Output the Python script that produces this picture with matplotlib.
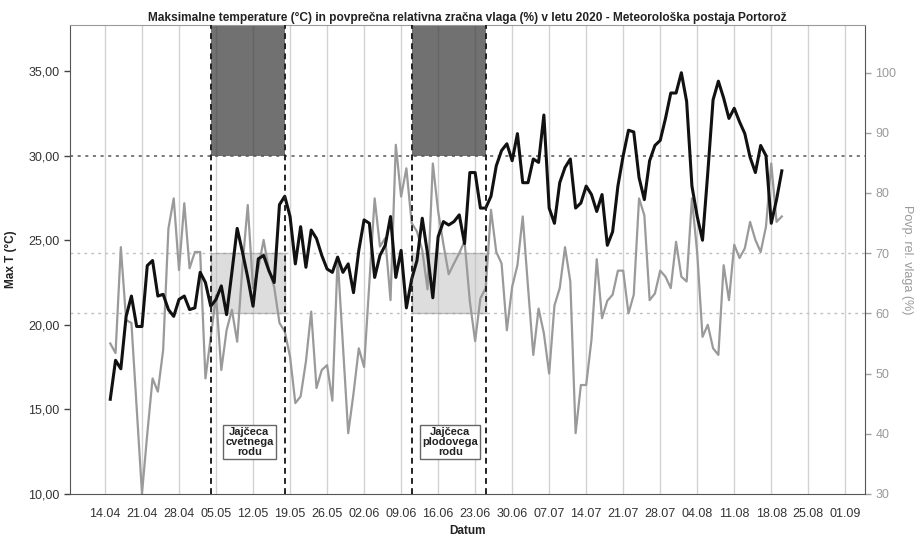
import numpy as np
import pandas as pd
import matplotlib
matplotlib.use("Agg")
import matplotlib.pyplot as plt
import matplotlib.dates as mdates
from matplotlib.patches import Rectangle

plt.rcParams['font.family'] = ['Liberation Sans', 'DejaVu Sans']

# dnevni podatki, Portorož 15.04.2020 - 20.08.2020
zacetek = '2020-04-15'
max_t = [15.6, 17.9, 17.4, 20.5, 21.7, 19.9, 19.9, 23.5, 23.8, 21.7,
         21.8, 20.9, 20.5, 21.5, 21.7, 20.9, 21.0, 23.1, 22.5, 21.1,
         21.5, 22.3, 20.6, 23.1, 25.7, 24.3, 22.8, 21.1, 23.9, 24.1,
         23.2, 22.5, 27.1, 27.6, 26.4, 23.6, 25.8, 23.4, 25.6, 25.1,
         24.1, 23.3, 23.1, 24.0, 23.1, 23.6, 21.9, 24.4, 26.2, 26.0,
         22.8, 24.1, 24.7, 26.4, 22.8, 24.4, 21.0, 22.7, 23.8, 26.3,
         24.2, 21.6, 25.2, 26.1, 25.9, 26.1, 26.5, 24.8, 29.0, 29.0,
         26.9, 26.9, 27.6, 29.4, 30.3, 30.7, 29.7, 31.3, 28.4, 28.4,
         29.8, 29.6, 32.4, 26.9, 26.0, 28.4, 29.3, 29.8, 26.9, 27.2,
         28.2, 27.7, 26.7, 27.7, 24.7, 25.5, 28.2, 30.0, 31.5, 31.4,
         28.7, 27.4, 29.7, 30.6, 30.9, 32.2, 33.7, 33.7, 34.9, 33.2,
         28.2, 26.4, 25.0, 29.0, 33.3, 34.4, 33.4, 32.2, 32.8, 32.0,
         31.3, 29.9, 29.0, 30.6, 30.0, 26.0, 27.4, 29.1]
vlaga = [55.0, 53.4, 71.0, 58.9, 58.4, 44.2, 30.1, 40.0, 49.2, 47.0,
         53.9, 74.1, 79.1, 67.2, 78.3, 67.5, 70.2, 70.2, 49.2, 56.0,
         63.0, 50.6, 57.2, 60.6, 55.3, 67.8, 78.0, 64.2, 67.5, 72.2,
         67.2, 64.4, 58.4, 57.0, 52.8, 45.1, 46.2, 52.0, 60.3, 47.6,
         50.6, 51.4, 45.5, 69.3, 54.8, 40.1, 46.7, 54.2, 51.1, 65.2,
         79.1, 71.1, 72.5, 62.2, 88.0, 79.4, 84.1, 75.0, 73.6, 70.5,
         64.0, 84.9, 77.0, 71.5, 66.5, 68.3, 70.0, 72.0, 62.0, 55.4,
         62.5, 64.2, 77.2, 70.2, 68.3, 57.2, 64.4, 68.0, 76.1, 64.4,
         53.1, 60.8, 56.7, 50.0, 61.3, 64.2, 71.0, 65.3, 40.1, 48.1,
         48.1, 55.6, 69.0, 59.2, 62.1, 63.1, 67.1, 67.1, 60.0, 63.1,
         79.1, 76.3, 62.2, 63.3, 67.1, 66.1, 64.2, 71.9, 66.1, 65.3,
         79.1, 70.0, 56.1, 58.1, 54.2, 53.1, 68.0, 62.2, 71.4, 69.2,
         70.8, 75.2, 72.2, 70.2, 74.4, 84.9, 75.2, 76.1]

# obdobja odlaganja jajčec (zacetek, konec, napis)
obdobja = [('2020-05-04', '2020-05-18', 'Jajčeca\ncvetnega\nrodu'),
           ('2020-06-11', '2020-06-25', 'Jajčeca\nplodovega\nrodu')]
meja_t = 30.0
meje_vlaga = [60.0, 70.0]

t_ticks = [10, 15, 20, 25, 30, 35]
v_ticks = [30, 40, 50, 60, 70, 80, 90, 100]
x_ticks = pd.date_range('2020-04-14', '2020-09-01', freq='7D')

dnevi = pd.date_range(zacetek, periods=len(max_t), freq='D')

fig = plt.figure(figsize=(9.17, 5.38), dpi=100)
ax = fig.add_axes([0.0763, 0.0818, 0.867, 0.8717])
ax2 = ax.twinx()
ax.set_zorder(ax2.get_zorder() + 1)
ax.patch.set_visible(False)

x0 = mdates.date2num(pd.Timestamp('2020-04-14')) - 6.62
x1 = mdates.date2num(pd.Timestamp('2020-09-01')) + 3.73
ax.set_xlim(x0, x1)
ax.set_ylim(10, 37.72)
ax2.set_ylim(30, 107.9)

# navpicna mreza
for d in x_ticks:
    ax2.axvline(d, color='#d2d2d2', lw=1.0, zorder=0)

# vodoravne meje
ax.axhline(meja_t, color='#555555', ls=(0, (2, 3)), lw=1.1, zorder=1)
for m in meje_vlaga:
    ax2.axhline(m, color='#c0c0c0', ls=(0, (2, 3)), lw=1.0, zorder=1)

for od, do, napis in obdobja:
    a = mdates.date2num(pd.Timestamp(od))
    b = mdates.date2num(pd.Timestamp(do))
    ax.add_patch(Rectangle((a, meja_t), b - a, 37.72 - meja_t,
                           facecolor='#3a3a3a', alpha=0.72, lw=0, zorder=0.5))
    ax2.add_patch(Rectangle((a, meje_vlaga[0]), b - a, meje_vlaga[1] - meje_vlaga[0],
                            facecolor='#bdbdbd', alpha=0.5, edgecolor='#8a8a8a',
                            lw=1.0, zorder=1.5))
    for xx in (a, b):
        ax.axvline(xx, color='#222222', ls=(0, (3, 2.2)), lw=1.4, zorder=3)
    ax.text((a + b) / 2 + 0.3, 13.07, napis, ha='center', va='center', fontsize=8,
            linespacing=0.95, color='#222222', fontweight='semibold', zorder=4,
            bbox=dict(boxstyle='square,pad=0.2', fc='white', ec='#666666', lw=1.0))

ax2.plot(dnevi, vlaga, color='#9a9a9a', lw=1.6, zorder=2)
ax.plot(dnevi, max_t, color='#111111', lw=2.2, zorder=2.5)

ax.set_xticks(mdates.date2num(x_ticks))
ax.set_xticklabels([d.strftime('%d.%m') for d in x_ticks])
ax.set_yticks(t_ticks)
ax.set_yticklabels([f'{v:.2f}'.replace('.', ',') for v in t_ticks])
ax2.set_yticks(v_ticks)
ax2.set_yticklabels([str(v) for v in v_ticks])

ax.tick_params(axis='x', length=0, labelsize=9, colors='#333333', pad=10)
ax.tick_params(axis='y', length=4, width=1, labelsize=9, colors='#444444',
               labelcolor='#333333')
ax2.tick_params(axis='y', length=4, width=1, labelsize=9, colors='#a0a0a0',
                labelcolor='#9a9a9a')

for s in ('left', 'bottom', 'right'):
    ax.spines[s].set_color('#555555')
ax.spines['top'].set_color('#9a9a9a')
for s in ax2.spines.values():
    s.set_visible(False)

ax.set_title('Maksimalne temperature (°C) in povprečna relativna zračna vlaga (%) '
             'v letu 2020 - Meteorološka postaja Portorož',
             fontsize=8.6, fontweight='bold', color='#222222', pad=3)
ax.set_ylabel('Max T (°C)', fontsize=8.5, fontweight='bold', color='#222222',
              labelpad=8)
ax2.set_ylabel('Povp. rel. vlaga (%)', fontsize=9, color='#9a9a9a',
               rotation=270, labelpad=12)
ax.set_xlabel('Datum', fontsize=8.5, fontweight='bold', color='#222222',
              labelpad=4)

fig.savefig('out.png', dpi=100)
